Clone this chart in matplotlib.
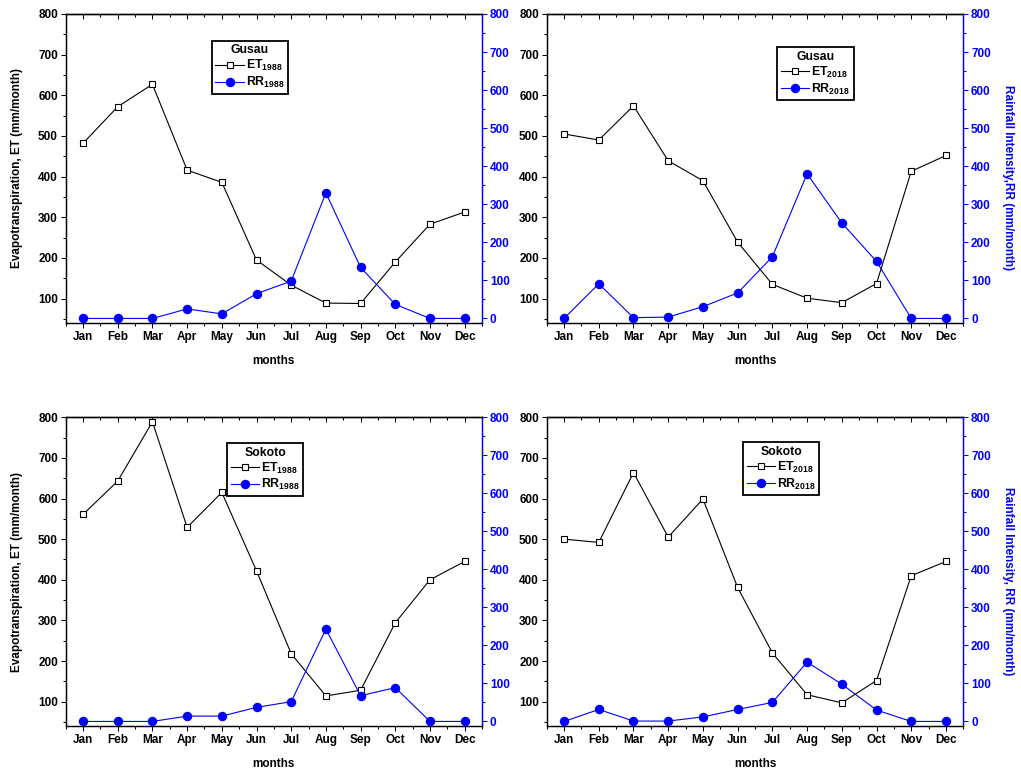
import numpy as np
import matplotlib
matplotlib.use("Agg")
import matplotlib.pyplot as plt
from matplotlib.ticker import MultipleLocator

plt.rcParams["font.family"] = ["Liberation Sans", "DejaVu Sans"]
plt.rcParams["font.weight"] = "bold"
plt.rcParams["mathtext.fontset"] = "custom"
plt.rcParams["mathtext.rm"] = "Liberation Sans:bold"
plt.rcParams["mathtext.bf"] = "Liberation Sans:bold"
plt.rcParams["mathtext.it"] = "Liberation Sans:bold"

# ── data ──────────────────────────────────────────────────────────────
months = ["Jan", "Feb", "Mar", "Apr", "May", "Jun",
          "Jul", "Aug", "Sep", "Oct", "Nov", "Dec"]

et_gusau_1988 = [482, 572, 627, 416, 386, 195, 133, 89, 88, 190, 283, 313]
rr_gusau_1988 = [0, 0, 0, 25, 12, 65, 98, 330, 134, 37, 0, 0]

et_gusau_2018 = [505, 490, 574, 439, 390, 239, 135, 101, 90, 137, 413, 452]
rr_gusau_2018 = [0, 91, 2, 3.5, 31, 67, 162, 380, 251, 150, 0, 0]

et_sokoto_1988 = [561, 643, 789, 529, 615, 422, 218, 114, 128, 294, 400, 445]
rr_sokoto_1988 = [0, 0, 0, 14, 14, 37, 52, 243, 67.5, 89, 0, 0]

et_sokoto_2018 = [500, 492, 664, 505, 599, 381, 220, 117, 97, 152, 410, 445]
rr_sokoto_2018 = [0, 31.5, 1, 1, 12, 31.5, 50, 156, 98, 30, 0, 0]

BLUE = "#0000ff"
FS = 8.5
LFS = 8.8

W, H = 1021, 772
fig = plt.figure(figsize=(W / 100, H / 100), dpi=100)


def px_axes(left, top, right, bottom):
    return fig.add_axes([left / W, (H - bottom) / H, (right - left) / W, (bottom - top) / H])


panels = [
    # box px, et, rr, station, year, left label, right label, legend anchor
    ((65.7, 14, 482, 323), et_gusau_1988, rr_gusau_1988, "Gusau", "1988", True, None, (0.351, 0.914)),
    ((546.7, 14, 963.3, 323), et_gusau_2018, rr_gusau_2018, "Gusau", "2018", False,
     "Rainfall Intensity,RR (mm/month)", (0.553, 0.893)),
    ((65.7, 417.3, 482, 726), et_sokoto_1988, rr_sokoto_1988, "Sokoto", "1988", True, None, (0.3875, 0.917)),
    ((546.7, 417.3, 963.3, 726), et_sokoto_2018, rr_sokoto_2018, "Sokoto", "2018", False,
     "Rainfall Intensity, RR (mm/month)", (0.471, 0.92)),
]

x = np.arange(1, 13)

for box, et, rr, station, year, left_lab, right_lab, anchor in panels:
    ax = px_axes(*box)
    ax2 = ax.twinx()

    l1, = ax.plot(x, et, color="black", lw=0.8, marker="s", ms=5,
                  mfc="white", mec="black", mew=0.8, label=f"ET$_{{{year}}}$", zorder=3)
    l2, = ax2.plot(x, rr, color=BLUE, lw=0.8, marker="o", ms=5.8,
                   mfc=BLUE, mec=BLUE, label=f"RR$_{{{year}}}$", zorder=3)

    ax.set_xlim(0.5, 12.5)
    ax.set_ylim(40, 800)
    ax2.set_ylim(-12, 800)

    ax.set_xticks(x)
    ax.set_xticklabels(months)
    ax.xaxis.set_minor_locator(MultipleLocator(0.5))
    ax.yaxis.set_major_locator(MultipleLocator(100))
    ax.yaxis.set_minor_locator(MultipleLocator(50))
    ax2.yaxis.set_major_locator(MultipleLocator(100))
    ax2.yaxis.set_minor_locator(MultipleLocator(50))

    for a in (ax, ax2):
        for s in a.spines.values():
            s.set_linewidth(0.9)
    ax.spines["right"].set_color(BLUE)
    ax2.spines["right"].set_color(BLUE)

    ax.tick_params(axis="both", which="major", direction="out", length=3.6, width=0.75,
                   labelsize=FS, pad=2)
    ax.tick_params(axis="both", which="minor", direction="out", length=2.2, width=0.75)
    ax2.tick_params(axis="y", which="major", direction="out", length=3.6, width=0.75,
                    labelsize=FS, colors=BLUE, pad=2)
    ax2.tick_params(axis="y", which="minor", direction="out", length=2.2, width=0.75,
                    colors=BLUE)
    for lab in ax.get_xticklabels() + ax.get_yticklabels() + ax2.get_yticklabels():
        lab.set_fontweight("bold")

    # mirrored top ticks pointing inward
    top = ax.secondary_xaxis("top")
    top.set_xticks(x)
    top.xaxis.set_minor_locator(MultipleLocator(0.5))
    top.tick_params(which="major", direction="in", length=3.6, width=0.75, labeltop=False)
    top.tick_params(which="minor", direction="in", length=2.2, width=0.75)
    top.spines["top"].set_linewidth(0.9)

    ax.set_xlabel("months", fontsize=FS, fontweight="bold")
    ax.xaxis.set_label_coords(0.5, -0.104)
    if left_lab:
        ax.set_ylabel("Evapotranspiration, ET (mm/month)", fontsize=FS, fontweight="bold")
        ax.yaxis.set_label_coords(-0.103, 0.5)
    if right_lab:
        ax2.set_ylabel(right_lab, fontsize=FS, fontweight="bold", color=BLUE,
                       rotation=270, va="bottom")
        ax2.yaxis.set_label_coords(1.093, 0.47)

    leg = ax2.legend(handles=[l1, l2], title=station, loc="upper left",
                     bbox_to_anchor=anchor, borderaxespad=0, fontsize=LFS,
                     title_fontproperties={"weight": "bold", "size": LFS},
                     fancybox=False, framealpha=1, edgecolor="black",
                     handlelength=2.3, handletextpad=0.2, labelspacing=0.15,
                     borderpad=0.3)
    leg.get_frame().set_linewidth(1.3)
    for t in leg.get_texts():
        t.set_fontweight("bold")

fig.savefig("out.png", dpi=100)
